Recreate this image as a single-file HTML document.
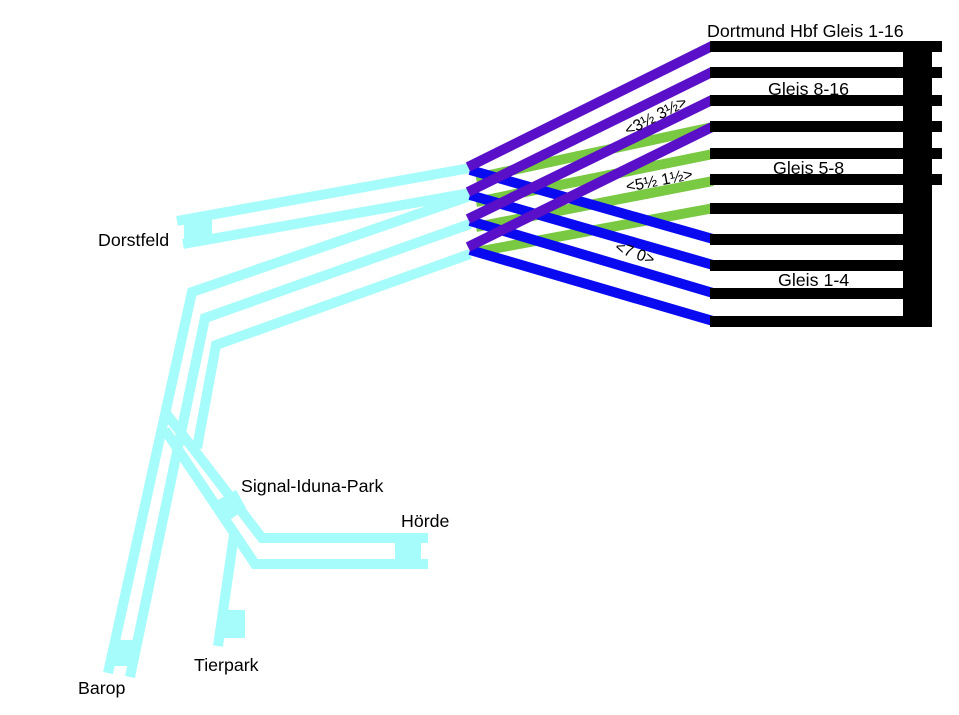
<!DOCTYPE html>
<html><head><meta charset="utf-8"><style>
html,body{margin:0;padding:0;background:#fff;}
svg{display:block;font-family:"Liberation Sans",sans-serif;}
</style></head><body>
<svg width="959" height="715" viewBox="0 0 959 715" xmlns="http://www.w3.org/2000/svg">
<g stroke="#a6fbfb" stroke-width="10" fill="none" stroke-linejoin="miter">
  <polyline points="470,168 177,221"/>
  <polyline points="470,193 183,244"/>
  <polyline points="470,196 192,292 108,673"/>
  <polyline points="470,224 205,318 130,677"/>
  <polyline points="470,254 216,345 197,448"/>
  <polyline points="165,412 262,538 428,538"/>
  <polyline points="165,430 255,564 428,564"/>
  <polyline points="234,535 218,646"/>
</g>
<g fill="#a6fbfb">
  <rect x="184" y="218" width="28" height="26"/>
  <rect x="395" y="537" width="26" height="28"/>
  <rect x="222" y="610" width="23" height="28"/>
  <rect x="112" y="640" width="22" height="26"/>
  <polygon points="218,500 236,490 246,508 230,520"/>
</g>
<g stroke="#7ac943" stroke-width="10">
  <line x1="476" y1="178" x2="713" y2="127"/>
  <line x1="476" y1="202" x2="713" y2="154"/>
  <line x1="476" y1="227" x2="713" y2="181"/>
  <line x1="476" y1="252" x2="714" y2="208"/>
</g>
<g stroke="#0a0af0" stroke-width="10">
  <line x1="470" y1="170" x2="713" y2="239"/>
  <line x1="470" y1="195" x2="713" y2="265"/>
  <line x1="470" y1="221" x2="713" y2="293"/>
  <line x1="470" y1="250" x2="713" y2="321"/>
</g>
<g stroke="#5a0fc8" stroke-width="10">
  <line x1="468" y1="167" x2="712" y2="46"/>
  <line x1="468" y1="192" x2="712" y2="72"/>
  <line x1="468" y1="219" x2="712" y2="100"/>
  <line x1="468" y1="247" x2="712" y2="127"/>
</g>
<g fill="#000">
  <rect x="710" y="41" width="232" height="11"/>
  <rect x="710" y="67" width="232" height="11"/>
  <rect x="710" y="95" width="232" height="11"/>
  <rect x="710" y="121" width="232" height="11"/>
  <rect x="710" y="148" width="232" height="11"/>
  <rect x="710" y="174" width="232" height="11"/>
  <rect x="710" y="203" width="200" height="11"/>
  <rect x="710" y="234" width="200" height="11"/>
  <rect x="710" y="260" width="200" height="11"/>
  <rect x="710" y="288" width="200" height="11"/>
  <rect x="710" y="316" width="222" height="11"/>
  <rect x="903" y="46" width="29" height="281"/>
</g>
<g font-size="17.8" fill="#000">
  <text x="707" y="37">Dortmund Hbf Gleis 1-16</text>
  <text x="768" y="95">Gleis 8-16</text>
  <text x="773" y="174">Gleis 5-8</text>
  <text x="778" y="286">Gleis 1-4</text>
  <text x="98" y="246">Dorstfeld</text>
  <text x="241" y="492">Signal-Iduna-Park</text>
  <text x="401" y="527">Hörde</text>
  <text x="194" y="671">Tierpark</text>
  <text x="78" y="694">Barop</text>
  <text x="0" y="0" transform="translate(628,136) rotate(-27)" font-size="16">&lt;3½ 3½&gt;</text>
  <text x="0" y="0" transform="translate(627,192) rotate(-11)" font-size="16">&lt;5½ 1½&gt;</text>
  <text x="0" y="0" transform="translate(614,251) rotate(20)" font-size="16">&lt;7 0&gt;</text>
</g>
</svg>
</body></html>
